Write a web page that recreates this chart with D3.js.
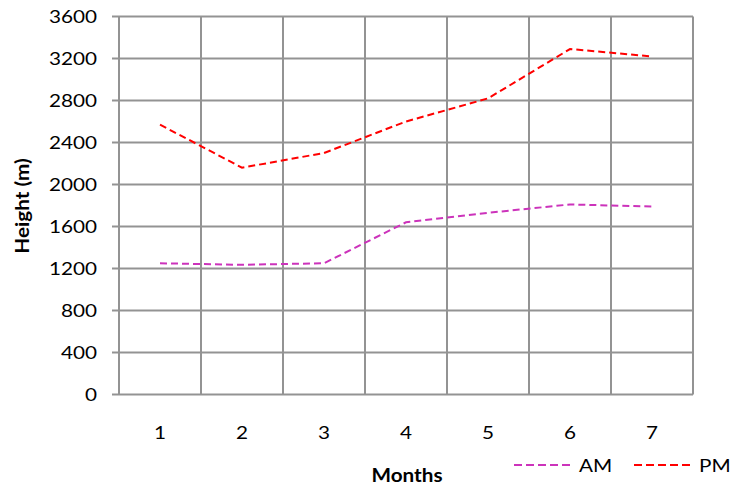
<!DOCTYPE html>
<html><head><meta charset="utf-8">
<script src="https://cdn.jsdelivr.net/npm/d3@7"></script>
<style>body{margin:0;background:#fff}svg{display:block}text{font-family:Lato,"Open Sans",sans-serif;fill:#000}</style>
</head><body><svg id="c" width="732" height="489"></svg>
<script>
const months = ["1","2","3","4","5","6","7"];
const amValues = [1250, 1235, 1250, 1640, 1730, 1810, 1790];
const pmValues = [2570, 2160, 2300, 2600, 2820, 3290, 3220];
const yTicks = [0,400,800,1200,1600,2000,2400,2800,3200,3600];
const seriesNames = ["AM","PM"];
const seriesColors = ["#CC33BB","#FF0000"];

const svg = d3.select("#c");
const m = {l:119, r:693, t:16.5, b:394.5};
const x = d3.scaleBand().domain(months).range([m.l,m.r]);
const y = d3.scaleLinear().domain([0,3600]).range([m.b,m.t]);
const grid = "#939393";
const SX = 1.15, FS = 18;

// horizontal grid
svg.append("g").selectAll("line").data(yTicks).join("line")
  .attr("x1",m.l-7).attr("x2",m.r).attr("y1",d=>y(d)).attr("y2",d=>y(d))
  .attr("stroke",grid).attr("stroke-width",2);
// vertical grid at band edges
const edges = months.map(d=>x(d)).concat([m.r]);
svg.append("g").selectAll("line").data(edges).join("line")
  .attr("x1",d=>d).attr("x2",d=>d).attr("y1",m.t).attr("y2",m.b)
  .attr("stroke",grid).attr("stroke-width",2);

// y tick labels
svg.append("g").selectAll("text").data(yTicks).join("text")
  .attr("transform",d=>`translate(97,${y(d)}) scale(${SX},1)`).attr("dy","0.36em").attr("text-anchor","end")
  .attr("font-size",FS).text(d=>d);
// x labels
svg.append("g").selectAll("text").data(months).join("text")
  .attr("transform",d=>`translate(${x(d)+x.bandwidth()/2},439) scale(${SX},1)`).attr("text-anchor","middle")
  .attr("font-size",FS).text(d=>d);

svg.append("text").attr("transform",`translate(407,482) scale(${SX},1)`).attr("text-anchor","middle")
  .attr("font-size",FS).attr("font-weight","bold").text("Months");
svg.append("text").attr("transform",`translate(29,206) rotate(-90) scale(${SX},1)`).attr("text-anchor","middle")
  .attr("font-size",FS).attr("font-weight","bold").text("Height (m)");

const line = d3.line().x((d,i)=>x(months[i])+x.bandwidth()/2).y(d=>y(d));
[amValues,pmValues].forEach((vals,i)=>{
  svg.append("path").attr("d",line(vals)).attr("fill","none")
    .attr("stroke",seriesColors[i]).attr("stroke-width",2).attr("stroke-dasharray","7,4");
});

// legend
const lx = [514,634];
seriesNames.forEach((n,i)=>{
  svg.append("line").attr("x1",lx[i]).attr("x2",lx[i]+56).attr("y1",465).attr("y2",465)
    .attr("stroke",seriesColors[i]).attr("stroke-width",2).attr("stroke-dasharray","8,4");
  svg.append("text").attr("transform",`translate(${lx[i]+65},472) scale(${SX},1)`)
    .attr("font-size",FS).text(n);
});
</script></body></html>
